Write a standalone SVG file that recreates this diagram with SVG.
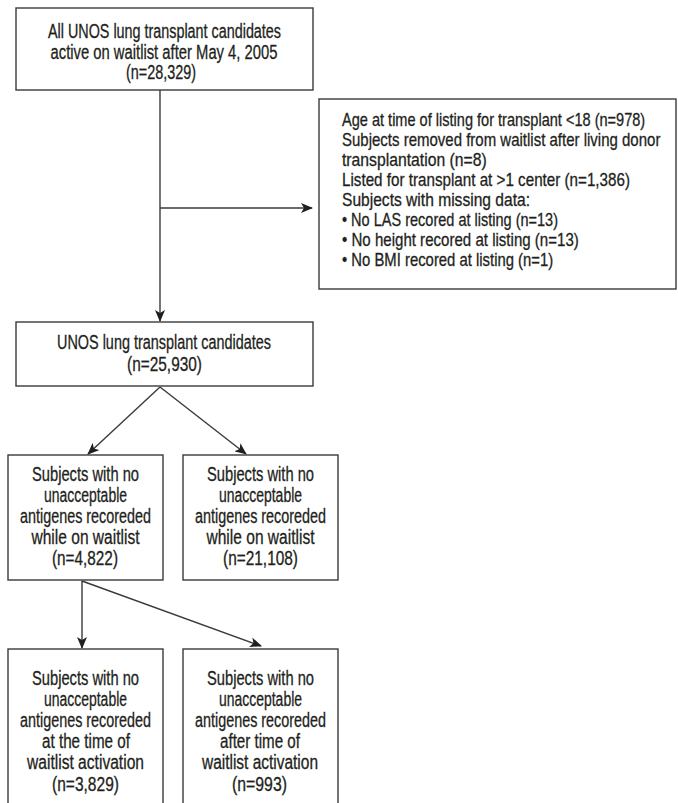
<svg xmlns="http://www.w3.org/2000/svg" width="678" height="803" viewBox="0 0 678 803">
<defs>
<style>
.box{fill:#fff;stroke:#3a3a3a;stroke-width:1.4}
.ln{fill:none;stroke:#3a3a3a;stroke-width:1.4}
text{font-family:"Liberation Sans",Arial,sans-serif;font-size:19.5px;fill:#231f20;stroke:#231f20;stroke-width:0.3}
.s{font-size:17.8px}
.c{text-anchor:middle}
</style>
<marker id="ah" viewBox="0 0 12 10" refX="11" refY="5" markerWidth="12" markerHeight="10" markerUnits="userSpaceOnUse" orient="auto">
<path d="M0,0 L12,5 L0,10 L3,5 Z" fill="#231f20"/>
</marker>
</defs>
<rect width="678" height="803" fill="#fff"/>
<g id="connectors">
<line class="ln" x1="160" y1="90" x2="160" y2="321" marker-end="url(#ah)"/>
<line class="ln" x1="160" y1="208" x2="312" y2="208" marker-end="url(#ah)"/>
<line class="ln" x1="160" y1="387" x2="88" y2="454" marker-end="url(#ah)"/>
<line class="ln" x1="160" y1="387" x2="246" y2="454" marker-end="url(#ah)"/>
<line class="ln" x1="82" y1="581" x2="82" y2="648" marker-end="url(#ah)"/>
<line class="ln" x1="82" y1="581" x2="261" y2="646" marker-end="url(#ah)"/>
</g>
<g id="n1">
<rect class="box" x="16" y="8" width="297" height="82"/>
<text class="c" x="164.5" y="38" textLength="233" lengthAdjust="spacingAndGlyphs">All UNOS lung transplant candidates</text>
<text class="c" x="164" y="58.5" textLength="227" lengthAdjust="spacingAndGlyphs">active on waitlist after May 4, 2005</text>
<text class="c" x="161" y="79" textLength="70" lengthAdjust="spacingAndGlyphs">(n=28,329)</text>
</g>
<g id="n2">
<rect class="box" x="319" y="99" width="357" height="190"/>
<g transform="translate(342 0) scale(0.8 1)">
<text class="s" x="0" y="126" textLength="379" lengthAdjust="spacingAndGlyphs">Age at time of listing for transplant &lt;18 (n=978)</text>
<text class="s" x="0" y="146" textLength="398" lengthAdjust="spacingAndGlyphs">Subjects removed from waitlist after living donor</text>
<text class="s" x="0" y="166" textLength="181" lengthAdjust="spacingAndGlyphs">transplantation (n=8)</text>
<text class="s" x="0" y="186" textLength="360" lengthAdjust="spacingAndGlyphs">Listed for transplant at &gt;1 center (n=1,386)</text>
<text class="s" x="0" y="206" textLength="235" lengthAdjust="spacingAndGlyphs">Subjects with missing data:</text>
<text class="s" x="0" y="226" textLength="270" lengthAdjust="spacingAndGlyphs">• No LAS recored at listing (n=13)</text>
<text class="s" x="0" y="246" textLength="296" lengthAdjust="spacingAndGlyphs">• No height recored at listing (n=13)</text>
<text class="s" x="0" y="266" textLength="264" lengthAdjust="spacingAndGlyphs">• No BMI recored at listing (n=1)</text>
</g>
</g>
<g id="n3">
<rect class="box" x="16" y="322" width="297" height="64"/>
<text class="c" x="164" y="349" textLength="214" lengthAdjust="spacingAndGlyphs">UNOS lung transplant candidates</text>
<text class="c" x="164.5" y="371" textLength="75" lengthAdjust="spacingAndGlyphs">(n=25,930)</text>
</g>
<g id="n4">
<rect class="box" x="8" y="455" width="155" height="125"/>
<text class="c" x="85.5" y="481" textLength="107" lengthAdjust="spacingAndGlyphs">Subjects with no</text>
<text class="c" x="85.5" y="502" textLength="83" lengthAdjust="spacingAndGlyphs">unacceptable</text>
<text class="c" x="85.5" y="523" textLength="131" lengthAdjust="spacingAndGlyphs">antigenes recoreded</text>
<text class="c" x="85.5" y="544" textLength="108" lengthAdjust="spacingAndGlyphs">while on waitlist</text>
<text class="c" x="85" y="565" textLength="66" lengthAdjust="spacingAndGlyphs">(n=4,822)</text>
</g>
<g id="n5">
<rect class="box" x="183" y="455" width="155" height="125"/>
<text class="c" x="260.5" y="481" textLength="107" lengthAdjust="spacingAndGlyphs">Subjects with no</text>
<text class="c" x="260.5" y="502" textLength="83" lengthAdjust="spacingAndGlyphs">unacceptable</text>
<text class="c" x="260.5" y="523" textLength="131" lengthAdjust="spacingAndGlyphs">antigenes recoreded</text>
<text class="c" x="260.5" y="544" textLength="108" lengthAdjust="spacingAndGlyphs">while on waitlist</text>
<text class="c" x="260.5" y="565" textLength="75" lengthAdjust="spacingAndGlyphs">(n=21,108)</text>
</g>
<g id="n6">
<rect class="box" x="8" y="649" width="155" height="165"/>
<text class="c" x="85.5" y="685" textLength="107" lengthAdjust="spacingAndGlyphs">Subjects with no</text>
<text class="c" x="85.5" y="706" textLength="83" lengthAdjust="spacingAndGlyphs">unacceptable</text>
<text class="c" x="85.5" y="727" textLength="131" lengthAdjust="spacingAndGlyphs">antigenes recoreded</text>
<text class="c" x="86" y="748" textLength="88" lengthAdjust="spacingAndGlyphs">at the time of</text>
<text class="c" x="85.5" y="769" textLength="117" lengthAdjust="spacingAndGlyphs">waitlist activation</text>
<text class="c" x="85.5" y="791" textLength="67" lengthAdjust="spacingAndGlyphs">(n=3,829)</text>
</g>
<g id="n7">
<rect class="box" x="183" y="649" width="155" height="165"/>
<text class="c" x="260.5" y="685" textLength="107" lengthAdjust="spacingAndGlyphs">Subjects with no</text>
<text class="c" x="260.5" y="706" textLength="83" lengthAdjust="spacingAndGlyphs">unacceptable</text>
<text class="c" x="260.5" y="727" textLength="131" lengthAdjust="spacingAndGlyphs">antigenes recoreded</text>
<text class="c" x="260" y="748" textLength="80" lengthAdjust="spacingAndGlyphs">after time of</text>
<text class="c" x="260" y="769" textLength="116" lengthAdjust="spacingAndGlyphs">waitlist activation</text>
<text class="c" x="259.5" y="791" textLength="55" lengthAdjust="spacingAndGlyphs">(n=993)</text>
</g>
</svg>
